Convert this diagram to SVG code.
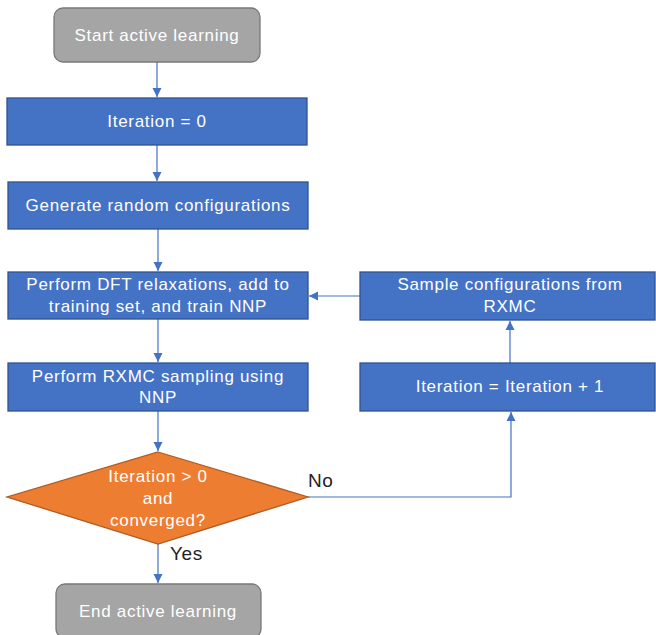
<svg xmlns="http://www.w3.org/2000/svg" width="656" height="635" viewBox="0 0 656 635">
<defs>
<marker id="arr" markerWidth="10" markerHeight="10" refX="9" refY="5" orient="auto" markerUnits="userSpaceOnUse">
<path d="M0,0.5 L9,5 L0,9.5 Z" fill="#4472c4"/>
</marker>
<style>
.proc{fill:#4472c4;stroke:#2f528f;stroke-width:1.3}
.term{fill:#a5a5a5;stroke:#787878;stroke-width:1.3}
.dec{fill:#ed7d31;stroke:#ae5a21;stroke-width:1.3}
.t{font-family:"Liberation Sans",Arial,sans-serif;font-size:17px;fill:#ffffff;text-anchor:middle;letter-spacing:0.7px}
.lbl{font-family:"Liberation Sans",Arial,sans-serif;font-size:19px;fill:#222222;letter-spacing:0.6px}
.c{fill:none;stroke:#4472c4;stroke-width:1.2}
</style>
</defs>
<rect width="656" height="635" fill="#ffffff"/>
<g id="connectors">
<path class="c" d="M157,62 V97" marker-end="url(#arr)"/>
<path class="c" d="M157,145 V181" marker-end="url(#arr)"/>
<path class="c" d="M158,229 V271" marker-end="url(#arr)"/>
<path class="c" d="M360,296 H309" marker-end="url(#arr)"/>
<path class="c" d="M158,319 V362" marker-end="url(#arr)"/>
<path class="c" d="M158,411 V451" marker-end="url(#arr)"/>
<path class="c" d="M158,544 V583" marker-end="url(#arr)"/>
<path class="c" d="M308,497 H511 V412" marker-end="url(#arr)"/>
<path class="c" d="M510,363 V321" marker-end="url(#arr)"/>
<text class="lbl" x="308" y="487">No</text>
<text class="lbl" x="170" y="560">Yes</text>
</g>
<g id="start">
<rect class="term" x="54" y="8" width="206" height="54" rx="9"/>
<text class="t" x="157" y="41">Start active learning</text>
</g>
<g id="iter0">
<rect class="proc" x="7" y="98" width="300" height="47"/>
<text class="t" x="157" y="127">Iteration = 0</text>
</g>
<g id="generate">
<rect class="proc" x="8" y="182" width="300" height="47"/>
<text class="t" x="158" y="211">Generate random configurations</text>
</g>
<g id="dft">
<rect class="proc" x="8" y="272" width="300" height="47"/>
<text class="t" x="158" y="290">Perform DFT relaxations, add to</text>
<text class="t" x="158" y="312">training set, and train NNP</text>
</g>
<g id="rxmc">
<rect class="proc" x="8" y="363" width="300" height="48"/>
<text class="t" x="158" y="382">Perform RXMC sampling using</text>
<text class="t" x="158" y="403">NNP</text>
</g>
<g id="sample">
<rect class="proc" x="360" y="272" width="295" height="48"/>
<text class="t" x="510" y="290">Sample configurations from</text>
<text class="t" x="510" y="312">RXMC</text>
</g>
<g id="iterinc">
<rect class="proc" x="360" y="363" width="295" height="48"/>
<text class="t" x="510" y="392">Iteration = Iteration + 1</text>
</g>
<g id="decision">
<path class="dec" d="M158,452 L308,497 L158,544 L7,497 Z"/>
<text class="t" x="158" y="482">Iteration &gt; 0</text>
<text class="t" x="158" y="504">and</text>
<text class="t" x="158" y="526">converged?</text>
</g>
<g id="end">
<rect class="term" x="56" y="584" width="205" height="54" rx="9"/>
<text class="t" x="158" y="617">End active learning</text>
</g>
</svg>
